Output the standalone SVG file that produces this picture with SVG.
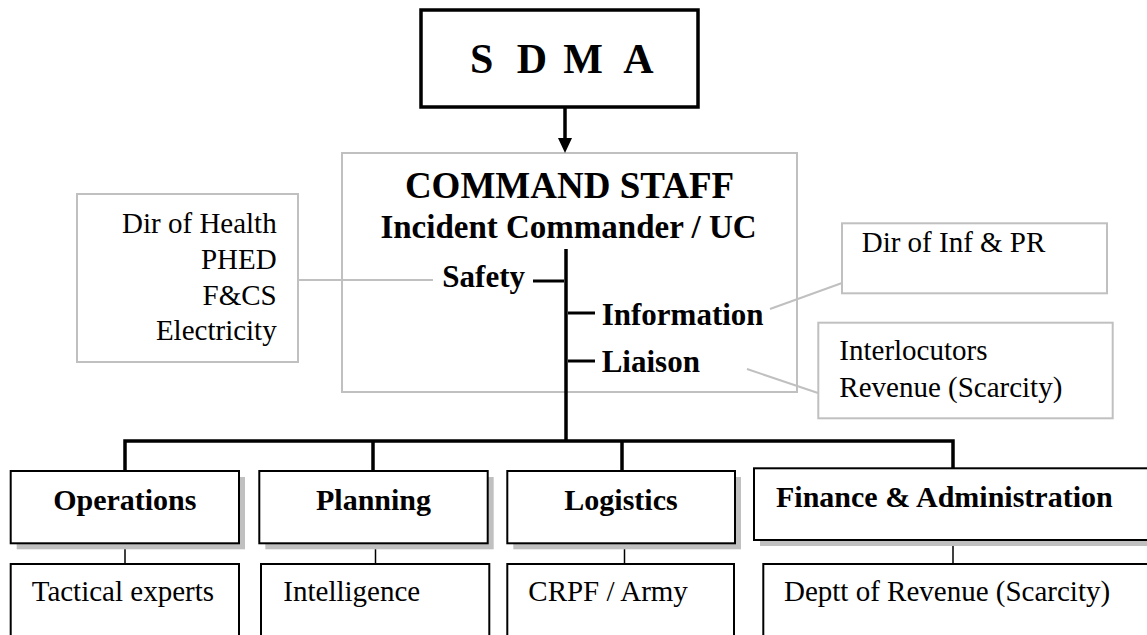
<svg xmlns="http://www.w3.org/2000/svg" width="1147" height="635" viewBox="0 0 1147 635">
<style>
.reg{font-family:"Liberation Serif","Times New Roman",serif;font-size:29px;fill:#000}
.bold{font-family:"Liberation Serif","Times New Roman",serif;font-weight:bold;fill:#000}
.gbox{fill:#fff;stroke:#c0c0c0;stroke-width:2}
.kbox{fill:#fff;stroke:#000;stroke-width:2}
.shadow{fill:#c0c0c0}
.thick{stroke:#000;stroke-width:3.5;fill:none}
.thin{stroke:#000;stroke-width:1.5;fill:none}
.gray{stroke:#c0c0c0;stroke-width:2;fill:none}
</style>
<defs>
<marker id="arr" markerWidth="14" markerHeight="15" refX="7" refY="15" orient="auto-start-reverse" markerUnits="userSpaceOnUse" viewBox="0 0 14 15">
<path d="M0,0 L14,0 L7,15 Z" fill="#000" transform="rotate(0)"/>
</marker>
</defs>
<rect width="1147" height="635" fill="#fff"/>

<g id="command-staff">
<rect class="gbox" x="342" y="153" width="455" height="239"/>
<text class="bold" x="569.5" y="198" font-size="37" text-anchor="middle">COMMAND STAFF</text>
<text class="bold" x="568.5" y="238" font-size="33" text-anchor="middle">Incident Commander / UC</text>
<text class="bold" x="525" y="287" font-size="31" text-anchor="end">Safety</text>
<text class="bold" x="601.7" y="325" font-size="31">Information</text>
<text class="bold" x="601.7" y="372" font-size="31">Liaison</text>
</g>

<g id="connectors">
<line class="thick" x1="565" y1="107" x2="565" y2="138" />
<path d="M558,138 L572,138 L565,153 Z" fill="#000"/>
<line class="gray" x1="298" y1="280" x2="433" y2="280"/>
<line class="gray" x1="770" y1="309" x2="842" y2="283"/>
<line class="gray" x1="747" y1="369" x2="818" y2="393"/>
<line class="thick" x1="566" y1="249" x2="566" y2="441"/>
<line x1="533" y1="281" x2="564" y2="281" stroke="#000" stroke-width="3"/>
<line x1="568" y1="313" x2="595" y2="313" stroke="#000" stroke-width="3"/>
<line x1="568" y1="361" x2="595" y2="361" stroke="#000" stroke-width="3"/>
<path class="thick" d="M125,471 V441 H953 V468"/>
<line class="thick" x1="373" y1="441" x2="373" y2="471"/>
<line class="thick" x1="622" y1="441" x2="622" y2="471"/>
<line class="thin" x1="125" y1="543" x2="125" y2="564"/>
<line class="thin" x1="375.5" y1="543" x2="375.5" y2="564"/>
<line class="thin" x1="624.5" y1="543" x2="624.5" y2="564"/>
<line class="thin" x1="953" y1="540" x2="953" y2="564"/>
</g>

<g id="sdma">
<rect x="421" y="10" width="277" height="97" fill="#fff" stroke="#000" stroke-width="3.5"/>
<text class="bold" font-size="42" y="72.7" x="470 494 516.7 547 563.3 606 623.3">S D M A</text>
</g>

<g id="safety-agencies">
<rect class="gbox" x="77" y="194" width="221" height="168"/>
<text class="reg" text-anchor="end" x="276.7" y="233">Dir of Health</text>
<text class="reg" text-anchor="end" x="276.7" y="269">PHED</text>
<text class="reg" text-anchor="end" x="276.7" y="305">F&amp;CS</text>
<text class="reg" text-anchor="end" x="276.7" y="340">Electricity</text>
</g>

<g id="info-agency">
<rect class="gbox" x="842" y="223.3" width="265" height="70"/>
<text class="reg" x="861.7" y="251.7">Dir of Inf &amp; PR</text>
</g>

<g id="liaison-agency">
<rect class="gbox" x="818.3" y="322.7" width="294.4" height="95.6"/>
<text class="reg" x="839.3" y="360">Interlocutors</text>
<text class="reg" x="839.3" y="396.7">Revenue (Scarcity)</text>
</g>

<g id="operations">
<rect class="shadow" x="16.7" y="477" width="228.3" height="72.3"/>
<rect class="kbox" x="10.7" y="471" width="228.3" height="72.3"/>
<text class="bold" font-size="30" x="124.8" y="510" text-anchor="middle">Operations</text>
</g>
<g id="planning">
<rect class="shadow" x="265.3" y="477" width="228.4" height="72.3"/>
<rect class="kbox" x="259.3" y="471" width="228.4" height="72.3"/>
<text class="bold" font-size="30" x="373.5" y="510" text-anchor="middle">Planning</text>
</g>
<g id="logistics">
<rect class="shadow" x="513.3" y="477" width="227.7" height="72.3"/>
<rect class="kbox" x="507.3" y="471" width="227.7" height="72.3"/>
<text class="bold" font-size="30" x="621" y="510" text-anchor="middle">Logistics</text>
</g>
<g id="finance">
<rect class="shadow" x="760" y="474.3" width="400" height="71.7"/>
<rect class="kbox" x="754" y="468.3" width="400" height="71.7"/>
<text class="bold" font-size="30" x="776" y="506.7">Finance &amp; Administration</text>
</g>

<g id="tactical">
<rect class="kbox" x="10.7" y="564" width="228.3" height="80"/>
<text class="reg" x="31.7" y="601">Tactical experts</text>
</g>
<g id="intelligence">
<rect class="kbox" x="261" y="564" width="228.3" height="80"/>
<text class="reg" x="283.3" y="601">Intelligence</text>
</g>
<g id="crpf">
<rect class="kbox" x="507.3" y="564" width="226.7" height="80"/>
<text class="reg" x="528.3" y="601">CRPF / Army</text>
</g>
<g id="revenue">
<rect class="kbox" x="763.3" y="564" width="400" height="80"/>
<text class="reg" x="784" y="601">Deptt of Revenue (Scarcity)</text>
</g>
</svg>
